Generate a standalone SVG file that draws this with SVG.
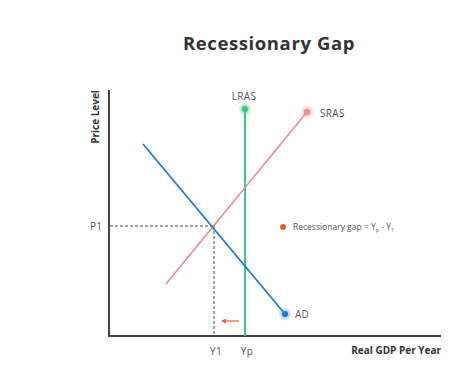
<svg xmlns="http://www.w3.org/2000/svg" width="474" height="382" viewBox="0 0 474 382">
<style>
text{font-family:"Open Sans","Liberation Sans",sans-serif;fill:#555}
.b{font-weight:bold;fill:#333}
.lbl{font-size:10px;letter-spacing:0.3px}
.dash{stroke:#444;stroke-width:1;stroke-dasharray:3,2;fill:none}
</style>
<defs>
<radialGradient id="gg"><stop offset="0.4" stop-color="#3cc68a" stop-opacity="0.5"/><stop offset="1" stop-color="#3cc68a" stop-opacity="0"/></radialGradient>
<radialGradient id="gr"><stop offset="0.4" stop-color="#f08a8a" stop-opacity="0.5"/><stop offset="1" stop-color="#f08a8a" stop-opacity="0"/></radialGradient>
<radialGradient id="gb"><stop offset="0.4" stop-color="#1f7ad8" stop-opacity="0.4"/><stop offset="1" stop-color="#1f7ad8" stop-opacity="0"/></radialGradient>
</defs>
<rect width="474" height="382" fill="#fff"/>
<text x="269" y="50" text-anchor="middle" class="b" font-size="18.5" letter-spacing="0.6">Recessionary Gap</text>
<g id="axes">
<line x1="109" y1="90" x2="109" y2="337" stroke="#444" stroke-width="2"/>
<line x1="108" y1="336" x2="441" y2="336" stroke="#444" stroke-width="2"/>
<text transform="translate(99,117) rotate(-90)" text-anchor="middle" class="b" font-size="10">Price Level</text>
<text x="441" y="354" text-anchor="end" class="b" font-size="10">Real GDP Per Year</text>
</g>
<g id="connectors">
<line class="dash" x1="110" y1="226" x2="214" y2="226"/>
<line class="dash" x1="214" y1="226" x2="214" y2="335"/>
<line x1="239" y1="321" x2="224" y2="321" stroke="#e0622a" stroke-width="1.2"/>
<path d="M221,321 L226,318.5 L226,323.5 Z" fill="#e0622a"/>
</g>
<g id="LRAS">
<line x1="245" y1="109" x2="245" y2="336" stroke="#3cc68a" stroke-width="2"/>
<circle cx="245" cy="109" r="7" fill="url(#gg)"/>
<circle cx="245" cy="109" r="3" fill="#3cc68a"/>
<text x="244" y="100" text-anchor="middle" class="lbl">LRAS</text>
</g>
<g id="SRAS">
<line x1="166" y1="284" x2="307" y2="112" stroke="#f08a8a" stroke-width="1.6"/>
<circle cx="307" cy="112" r="7" fill="url(#gr)"/>
<circle cx="307" cy="112" r="3" fill="#f08a8a"/>
<text x="320" y="117" class="lbl">SRAS</text>
</g>
<g id="AD">
<line x1="143" y1="144" x2="285" y2="314" stroke="#1f7ad8" stroke-width="1.8"/>
<circle cx="285" cy="314" r="7" fill="url(#gb)"/>
<circle cx="285" cy="314" r="3" fill="#1f7ad8"/>
<text x="295" y="318" class="lbl">AD</text>
</g>
<g id="labels">
<text x="90" y="230" class="lbl">P1</text>
<text x="216" y="355" text-anchor="middle" class="lbl">Y1</text>
<text x="247" y="355" text-anchor="middle" class="lbl">Yp</text>
</g>
<g id="legend">
<circle cx="283" cy="227" r="3" fill="#e0622a"/>
<text x="293" y="230" font-size="8.5">Recessionary gap = Y<tspan font-size="5.5" dy="2">p</tspan><tspan dy="-2"> - Y</tspan><tspan font-size="5.5" dy="2">1</tspan></text>
</g>
</svg>
